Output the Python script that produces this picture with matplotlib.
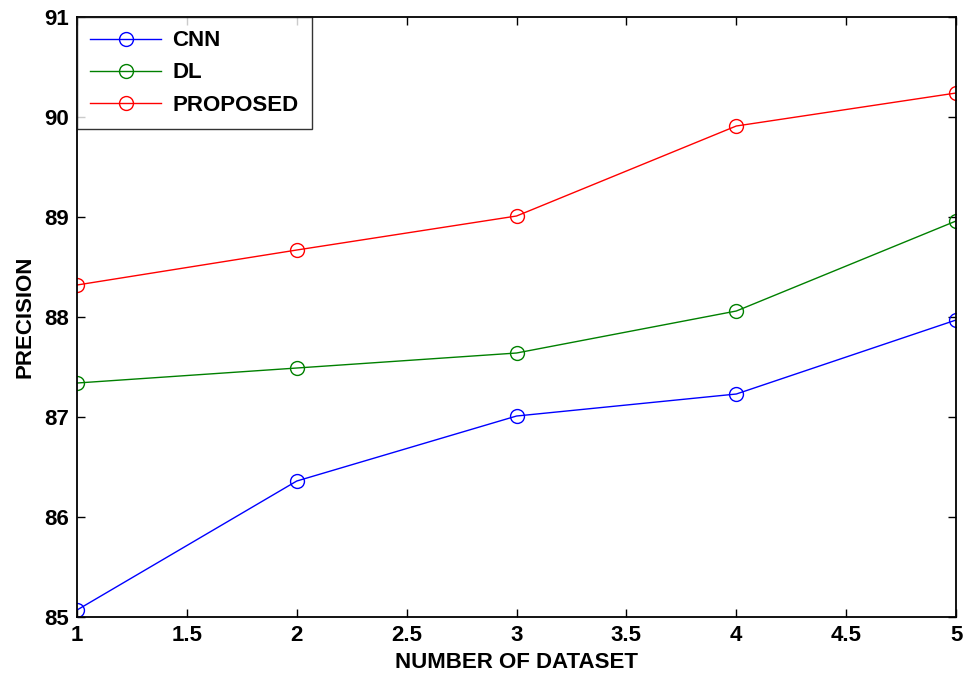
import matplotlib
matplotlib.use('Agg')
import matplotlib.pyplot as plt

# Data
datasets = [1, 2, 3, 4, 5]
cnn = [85.07, 86.36, 87.01, 87.23, 87.97]
dl = [87.34, 87.49, 87.64, 88.06, 88.96]
proposed = [88.32, 88.67, 89.01, 89.91, 90.24]

plt.rcParams['font.family'] = ['Liberation Sans', 'DejaVu Sans']
plt.rcParams['font.weight'] = 'bold'

fig = plt.figure(figsize=(9.66, 6.8), dpi=100)
ax = fig.add_axes([0.0797, 0.0926, 0.9100, 0.8824])

# Plot each series with open circle markers
ax.plot(datasets, cnn, color='blue', marker='o', markersize=10, markerfacecolor='none',
        linewidth=1, label='CNN')
ax.plot(datasets, dl, color='#008000', marker='o', markersize=10, markerfacecolor='none',
        linewidth=1, label='DL')
ax.plot(datasets, proposed, color='red', marker='o', markersize=10, markerfacecolor='none',
        linewidth=1, label='PROPOSED')

ax.set_xlim(1, 5)
ax.set_ylim(85, 91)
ax.set_xticks([1, 1.5, 2, 2.5, 3, 3.5, 4, 4.5, 5])
ax.set_xticklabels(['1', '1.5', '2', '2.5', '3', '3.5', '4', '4.5', '5'])
ax.set_yticks([85, 86, 87, 88, 89, 90, 91])
ax.tick_params(direction='in', length=6, width=1, top=True, right=True,
               labelsize=16, pad=6)
for lbl in ax.get_xticklabels() + ax.get_yticklabels():
    lbl.set_fontweight('bold')
for sp in ax.spines.values():
    sp.set_linewidth(1.3)

ax.set_xlabel('NUMBER OF DATASET', fontsize=16, fontweight='bold', labelpad=4)
ax.set_ylabel('PRECISION', fontsize=16, fontweight='bold', labelpad=6)

leg = ax.legend(loc='upper left', fontsize=16, frameon=True, fancybox=False,
                borderaxespad=0, handlelength=3.2, handletextpad=0.5,
                borderpad=0.6, labelspacing=0.5)
leg.get_frame().set_edgecolor('black')
leg.get_frame().set_linewidth(1)
for t in leg.get_texts():
    t.set_fontweight('bold')

fig.savefig('out.png', dpi=100)
